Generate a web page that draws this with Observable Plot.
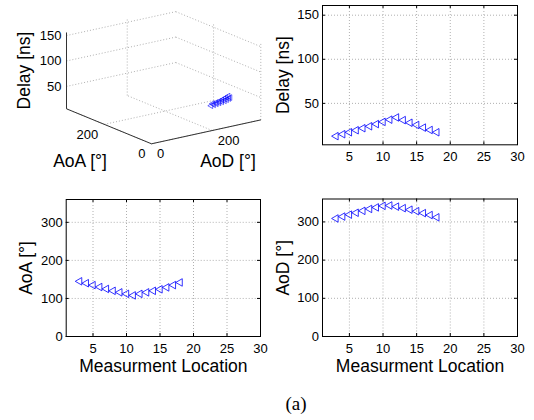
<!DOCTYPE html>
<html><head><meta charset="utf-8">
<script src="https://cdn.jsdelivr.net/npm/d3@7"></script>
<script src="https://cdn.jsdelivr.net/npm/@observablehq/plot@0.6"></script>
<style>
body{margin:0;background:#fff;}
#fig{position:relative;width:534px;height:420px;background:#fff;overflow:hidden;}
.cell{position:absolute;}
#cap{position:absolute;top:394px;left:296px;transform:translateX(-50%);font-family:"Liberation Serif","Times New Roman",serif;font-size:19px;line-height:19px;color:#000;white-space:nowrap;}
</style></head><body>
<div id="fig">
  <div id="c3d" class="cell" style="left:0;top:0"></div>
  <div id="cDelay" class="cell" style="left:270px;top:0"></div>
  <div id="cAoA" class="cell" style="left:0;top:180px"></div>
  <div id="cAoD" class="cell" style="left:270px;top:180px"></div>
  <div id="cap"></div>
</div>
<script>
// ---- data ----
const locations = [3, 4, 5, 6, 7, 8, 9, 10, 11, 12, 13, 14, 15, 16, 17, 18];
const delayNs   = [12.8, 15, 17.2, 19.5, 21.8, 24, 26.5, 29, 31.5, 34, 31, 28, 25.5, 22.5, 19.8, 17.2];
const aoaDeg    = [145, 140, 135, 130, 125, 120, 116, 112, 108, 112, 116, 120, 124, 129, 135, 142];
const aodDeg    = [309, 314, 319, 324, 329, 334, 338, 342, 343, 340, 336, 332, 328, 323, 318, 312];

const xTicks = [5, 10, 15, 20, 25, 30];
const delayTicks = [50, 100, 150];
const angleTicks = [0, 100, 200, 300];
const angleTicks3d = [0, 200];
const delayTicks3d = [50, 100, 150];
const xDomain = [1, 30];
const delayDomain = [3, 161];
const angleDomain = [0, 360];
const delayDomain3d = [6, 156];
const angleDomain3d = [0, 360];

const xLabel = "Measurment Location";
const delayLabel = "Delay [ns]";
const aoaLabel = "AoA [°]";
const aodLabel = "AoD [°]";
const captionText = "(a)";

const rows = locations.map((loc, i) => ({loc, delay: delayNs[i], aoa: aoaDeg[i], aod: aodDeg[i]}));

// ---- styles ----
const FONT = '"Liberation Sans", Arial, Helvetica, sans-serif';
const GRID = {stroke: "#b0b0b0", strokeOpacity: 1, strokeWidth: 1, strokeDasharray: "1,2"};
const MARK = {stroke: "#0000ff", fill: "none", strokeWidth: 0.8};
const baseStyle = {background: "transparent", fontFamily: FONT, fontSize: "13px", color: "#000", overflow: "visible"};

const leftTriangle = {
  draw(ctx, size) {
    const y = Math.sqrt(size / (3 * Math.sqrt(3)));
    ctx.moveTo(-2 * y, 0);
    ctx.lineTo(y, -Math.sqrt(3) * y);
    ctx.lineTo(y, Math.sqrt(3) * y);
    ctx.closePath();
  }
};

function panel({width, height, mL, mR, mT, mB, yField, yDomain, yTicks, yLabel, xLab}) {
  const fw = width - mL - mR, fh = height - mT - mB;
  return Plot.plot({
    width, height, marginLeft: mL, marginRight: mR, marginTop: mT, marginBottom: mB,
    style: baseStyle,
    x: {domain: xDomain, ticks: xTicks, tickSize: 0, tickPadding: 7, label: null},
    y: {domain: yDomain, ticks: yTicks, tickSize: 0, tickPadding: 3.5, label: null},
    marks: [
      Plot.ruleX(xTicks, {x: d => d, ...GRID}),
      Plot.ruleY(yTicks, {y: d => d, ...GRID}),
      Plot.ruleX(xTicks, {x: d => d, insetTop: fh - 3, stroke: "#000"}),
      Plot.ruleX(xTicks, {x: d => d, insetBottom: fh - 3, stroke: "#000"}),
      Plot.ruleY(yTicks, {y: d => d, insetRight: fw - 3, stroke: "#000"}),
      Plot.ruleY(yTicks, {y: d => d, insetLeft: fw - 3, stroke: "#000"}),
      Plot.frame({stroke: "#000"}),
      Plot.dot(rows, {x: "loc", y: yField, symbol: leftTriangle, r: 2.8, ...MARK}),
      Plot.text([yLabel], {text: d => d, frameAnchor: "left", rotate: -90, dx: -34, textAnchor: "middle", lineAnchor: "bottom", fontSize: 17.5}),
      xLab ? Plot.text([xLab], {text: d => d, frameAnchor: "bottom", dy: 35, textAnchor: "middle", lineAnchor: "bottom", fontSize: 17.5}) : null
    ]
  });
}

document.getElementById("cDelay").append(panel({width: 264, height: 180, mL: 52, mR: 17, mT: 5, mB: 35.7,
  yField: "delay", yDomain: delayDomain, yTicks: delayTicks, yLabel: delayLabel, xLab: null}));
document.getElementById("cAoA").append(panel({width: 270, height: 205, mL: 65.7, mR: 10, mT: 19, mB: 49,
  yField: "aoa", yDomain: angleDomain, yTicks: angleTicks, yLabel: aoaLabel, xLab: xLabel}));
document.getElementById("cAoD").append(panel({width: 264, height: 205, mL: 52, mR: 17, mT: 18.5, mB: 49,
  yField: "aod", yDomain: angleDomain, yTicks: angleTicks, yLabel: aodLabel, xLab: xLabel}));

// ---- 3D view (oblique projection of the three data series) ----
const ORIGIN = [151, 143.3];     // screen position of AoD=0, AoA=0, Delay=min
const AOD_AXIS = [109.3, -23.9]; // screen vector for the full AoD range
const AOA_AXIS = [-85, -35];     // screen vector for the full AoA range
const Z_AXIS = 76.3;             // screen height for the full Delay range
function proj(aod, aoa, z) {
  const u = (aod - angleDomain3d[0]) / (angleDomain3d[1] - angleDomain3d[0]);
  const v = (aoa - angleDomain3d[0]) / (angleDomain3d[1] - angleDomain3d[0]);
  const w = (z - delayDomain3d[0]) / (delayDomain3d[1] - delayDomain3d[0]);
  return {x: ORIGIN[0] + u * AOD_AXIS[0] + v * AOA_AXIS[0], y: ORIGIN[1] + u * AOD_AXIS[1] + v * AOA_AXIS[1] - w * Z_AXIS};
}
function seg(a, b) { return {x1: a.x, y1: a.y, x2: b.x, y2: b.y}; }
const [A0, A1] = angleDomain3d, [Z0, Z1] = delayDomain3d;
const grid3d = [];
for (const z of delayTicks3d) {
  grid3d.push(seg(proj(A0, A1, z), proj(A1, A1, z)));
  grid3d.push(seg(proj(A1, A1, z), proj(A1, A0, z)));
}
for (const t of angleTicks3d) {
  grid3d.push(seg(proj(t, A1, Z0), proj(t, A1, Z1)));   // AoD lines on AoA-max wall
  grid3d.push(seg(proj(A1, t, Z0), proj(A1, t, Z1)));   // AoA lines on AoD-max wall
  grid3d.push(seg(proj(t, A0, Z0), proj(t, A1, Z0)));   // floor, AoD lines
  grid3d.push(seg(proj(A0, t, Z0), proj(A1, t, Z0)));   // floor, AoA lines
}
const axes3d = [
  seg(proj(A0, A1, Z0), proj(A0, A1, Z1)),
  seg(proj(A0, A0, Z0), proj(A0, A1, Z0)),
  seg(proj(A0, A0, Z0), proj(A1, A0, Z0))
];
const pts3d = rows.map(r => proj(r.aod, r.aoa, r.delay));
const zTickPos = delayTicks3d.map(z => ({...proj(A0, A1, z), t: String(z)}));
const aoaTickPos = angleTicks3d.map(t => ({...proj(A0, t, Z0), t: String(t)}));
const aodTickPos = angleTicks3d.map(t => ({...proj(t, A0, Z0), t: String(t)}));

const p3 = Plot.plot({
  width: 270, height: 180, margin: 0,
  style: baseStyle,
  x: {domain: [0, 270], range: [0, 270], axis: null},
  y: {domain: [0, 180], range: [0, 180], axis: null},
  marks: [
    Plot.link(grid3d, {x1: "x1", y1: "y1", x2: "x2", y2: "y2", ...GRID}),
    Plot.link(axes3d, {x1: "x1", y1: "y1", x2: "x2", y2: "y2", stroke: "#333", strokeWidth: 1}),
    Plot.dot(pts3d, {x: "x", y: "y", symbol: leftTriangle, r: 2.1, ...MARK, strokeWidth: 0.6}),
    Plot.text(zTickPos, {x: "x", y: "y", text: "t", textAnchor: "end", dx: -5, lineAnchor: "middle"}),
    Plot.text(aoaTickPos, {x: "x", y: "y", text: "t", textAnchor: "end", dx: -6, dy: 10.5, lineAnchor: "middle"}),
    Plot.text(aodTickPos, {x: "x", y: "y", text: "t", textAnchor: "start", dx: 5.5, dy: 10, lineAnchor: "middle"}),
    Plot.text([{x: 29.5, y: 70, t: delayLabel}], {x: "x", y: "y", text: "t", rotate: -90, textAnchor: "middle", lineAnchor: "bottom", fontSize: 17.5}),
    Plot.text([{x: 79.5, y: 166, t: aoaLabel}], {x: "x", y: "y", text: "t", textAnchor: "middle", lineAnchor: "bottom", fontSize: 17.5}),
    Plot.text([{x: 227.5, y: 166, t: aodLabel}], {x: "x", y: "y", text: "t", textAnchor: "middle", lineAnchor: "bottom", fontSize: 17.5})
  ]
});
document.getElementById("c3d").append(p3);
document.getElementById("cap").textContent = captionText;
</script>
</body></html>
